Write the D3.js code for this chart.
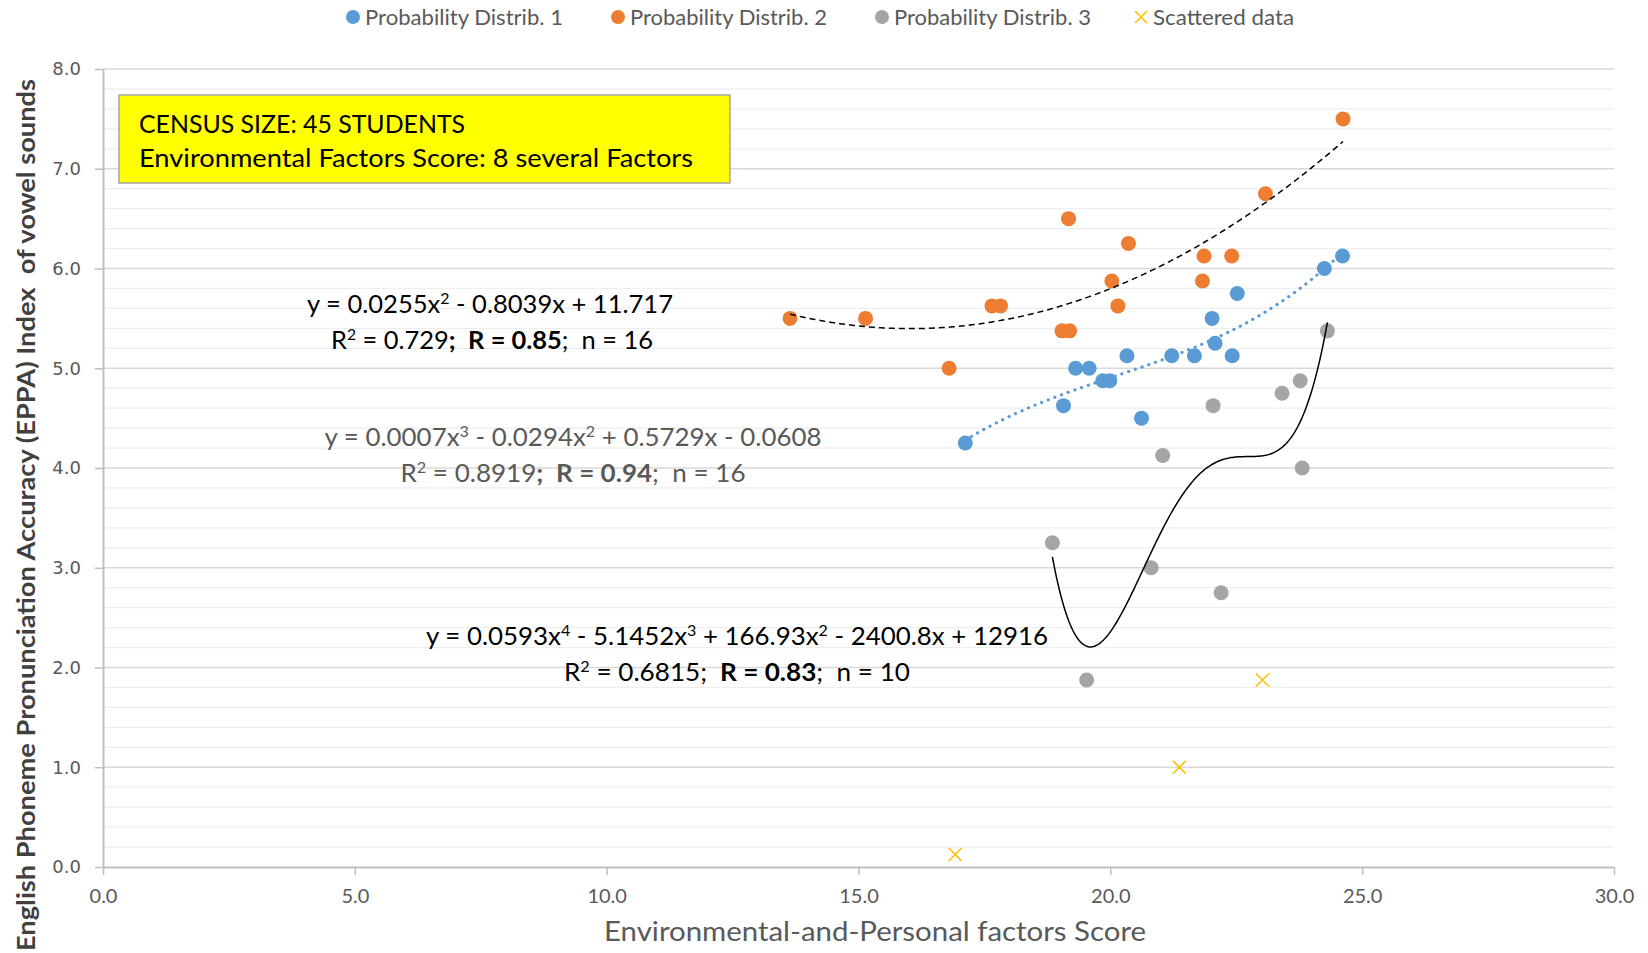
<!DOCTYPE html>
<html>
<head>
<meta charset="utf-8">
<script src="https://cdn.jsdelivr.net/npm/d3@7"></script>
<style>
  html, body { margin: 0; padding: 0; background: #ffffff; }
  svg { display: block; }
  svg text { white-space: pre; }
</style>
</head>
<body>
<svg id="chart" width="1648" height="953"></svg>
<script>
// ---- Data -----------------------------------------------------------------
const seriesNames = ["Probability Distrib. 1", "Probability Distrib. 2", "Probability Distrib. 3", "Scattered data"];

const dist1X = [17.12, 19.07, 19.31, 19.58, 19.85, 19.99, 20.33, 20.62, 21.22, 21.67, 22.02, 22.08, 22.42, 22.52, 24.25, 24.61];
const dist1Y = [4.25, 4.625, 5.0, 5.0, 4.875, 4.875, 5.125, 4.5, 5.125, 5.125, 5.5, 5.25, 5.125, 5.75, 6.0, 6.125];

const dist2X = [13.64, 15.14, 16.80, 17.65, 17.82, 19.04, 19.19, 19.17, 20.03, 20.15, 20.36, 21.83, 21.86, 22.41, 23.08, 24.62];
const dist2Y = [5.5, 5.5, 5.0, 5.625, 5.625, 5.375, 5.375, 6.5, 5.875, 5.625, 6.25, 5.875, 6.125, 6.125, 6.75, 7.5];

const dist3X = [18.85, 19.53, 20.81, 21.04, 22.04, 22.20, 23.41, 23.77, 23.81, 24.31];
const dist3Y = [3.25, 1.875, 3.0, 4.125, 4.625, 2.75, 4.75, 4.875, 4.0, 5.375];

const scatterX = [16.92, 21.37, 23.02];
const scatterY = [0.125, 1.0, 1.875];

// Polynomial order of each series' trendline
const trendOrder = [3, 2, 4];

const xTicks = [0, 5, 10, 15, 20, 25, 30];
const yTicks = [0, 1, 2, 3, 4, 5, 6, 7, 8];

const xTitle = "Environmental-and-Personal factors Score";
const yTitle = "English Phoneme Pronunciation Accuracy (EPPA) Index  of vowel sounds";
const noteLines = ["CENSUS SIZE: 45 STUDENTS", "Environmental Factors Score: 8 several Factors"];

// Trendline equation labels: [text, style] segments (n = normal, b = bold, s = superscript)
const eqDistrib2 = [
  [["y = 0.0255x", "n"], ["2", "s"], [" - 0.8039x + 11.717", "n"]],
  [["R", "n"], ["2", "s"], [" = 0.729", "n"], [";  R = 0.85", "b"], [";  n = 16", "n"]]
];
const eqDistrib1 = [
  [["y = 0.0007x", "n"], ["3", "s"], [" - 0.0294x", "n"], ["2", "s"], [" + 0.5729x - 0.0608", "n"]],
  [["R", "n"], ["2", "s"], [" = 0.8919", "n"], [";  R = 0.94", "b"], [";  n = 16", "n"]]
];
const eqDistrib3 = [
  [["y = 0.0593x", "n"], ["4", "s"], [" - 5.1452x", "n"], ["3", "s"], [" + 166.93x", "n"], ["2", "s"], [" - 2400.8x + 12916", "n"]],
  [["R", "n"], ["2", "s"], [" = 0.6815; ", "n"], [" R = 0.83", "b"], [";  n = 10", "n"]]
];

// ---- Layout & style -------------------------------------------------------
const colors = ["#5b9bd5", "#ed7d31", "#a5a5a5", "#ffc000"];
const FONT = "Lato, 'Open Sans', 'Noto Sans', sans-serif";
const plot = { left: 103, right: 1614, top: 69, bottom: 867 };

const svg = d3.select("#chart");
const x = d3.scaleLinear().domain([0, 30]).range([plot.left, plot.right]);
const y = d3.scaleLinear().domain([0, 8]).range([plot.bottom, plot.top]);
const fmt = d3.format(".1f");

// ---- Gridlines ------------------------------------------------------------
const minorTicks = d3.range(0, 8.0001, 0.2).filter(v => Math.abs(v - Math.round(v)) > 1e-6);
svg.append("g").selectAll("line").data(minorTicks).join("line")
  .attr("x1", plot.left).attr("x2", plot.right)
  .attr("y1", d => y(d)).attr("y2", d => y(d))
  .attr("stroke", "#eeeeee").attr("stroke-width", 1.3);
svg.append("g").selectAll("line").data(yTicks.filter(d => d > 0)).join("line")
  .attr("x1", plot.left).attr("x2", plot.right)
  .attr("y1", d => y(d)).attr("y2", d => y(d))
  .attr("stroke", "#d9d9d9").attr("stroke-width", 1.5);

// ---- Axes -----------------------------------------------------------------
const xAxis = svg.append("g").attr("transform", `translate(0,${plot.bottom})`)
  .call(d3.axisBottom(x).tickValues(xTicks).tickFormat(fmt).tickSizeInner(8).tickSizeOuter(0).tickPadding(14));
const yAxis = svg.append("g").attr("transform", `translate(${plot.left},0)`)
  .call(d3.axisLeft(y).tickValues(yTicks).tickFormat(fmt).tickSizeInner(8).tickSizeOuter(0).tickPadding(14));
[xAxis, yAxis].forEach(g => {
  g.select(".domain").attr("stroke", "#bfbfbf").attr("stroke-width", 2);
  g.selectAll(".tick line").attr("stroke", "#bfbfbf").attr("stroke-width", 1.5);
});
xAxis.selectAll(".tick text")
  .attr("font-family", FONT).attr("font-size", 20).attr("fill", "#595959");
yAxis.selectAll(".tick text")
  .attr("font-family", "'DejaVu Sans', Verdana, sans-serif").attr("font-size", 18).attr("fill", "#595959")
  .attr("x", -22);

// Axis titles
svg.append("text")
  .attr("x", 875 - 271).attr("y", 941)
  .attr("font-family", FONT).attr("font-size", 27).attr("fill", "#595959")
  .attr("textLength", 542).attr("lengthAdjust", "spacingAndGlyphs")
  .text(xTitle);
svg.append("text")
  .attr("transform", "translate(35,515) rotate(-90)")
  .attr("x", -436)
  .attr("font-family", FONT).attr("font-size", 25).attr("font-weight", "bold").attr("fill", "#404040")
  .attr("textLength", 872).attr("lengthAdjust", "spacingAndGlyphs")
  .text(yTitle);

// ---- Trendlines (least-squares polynomial fits) --------------------------
function polyFit(xs, ys, deg) {
  const m = d3.mean(xs), s = d3.deviation(xs);
  const t = xs.map(v => (v - m) / s);
  const n = deg + 1;
  const A = Array.from({ length: n }, () => new Array(n + 1).fill(0));
  t.forEach((tv, k) => {
    for (let i = 0; i < n; i++) {
      for (let j = 0; j < n; j++) A[i][j] += Math.pow(tv, i + j);
      A[i][n] += ys[k] * Math.pow(tv, i);
    }
  });
  for (let c = 0; c < n; c++) {
    let p = c;
    for (let r = c + 1; r < n; r++) if (Math.abs(A[r][c]) > Math.abs(A[p][c])) p = r;
    [A[c], A[p]] = [A[p], A[c]];
    for (let r = 0; r < n; r++) {
      if (r === c) continue;
      const f = A[r][c] / A[c][c];
      for (let k = c; k <= n; k++) A[r][k] -= f * A[c][k];
    }
  }
  const coef = A.map((row, i) => row[n] / row[i]);
  return v => {
    const u = (v - m) / s;
    let r = 0;
    for (let i = n - 1; i >= 0; i--) r = r * u + coef[i];
    return r;
  };
}

const line = d3.line().x(d => x(d[0])).y(d => y(d[1])).curve(d3.curveLinear);
function trendPoints(xs, ys, deg) {
  const f = polyFit(xs, ys, deg);
  const lo = d3.min(xs), hi = d3.max(xs);
  const steps = 200;
  return d3.range(steps + 1).map(i => {
    const v = lo + (hi - lo) * i / steps;
    return [v, f(v)];
  });
}

// ---- Points ---------------------------------------------------------------
const seriesXY = [[dist1X, dist1Y], [dist2X, dist2Y], [dist3X, dist3Y]];
seriesXY.forEach(([xs, ys], si) => {
  svg.append("g").selectAll("circle").data(xs.map((v, i) => [v, ys[i]])).join("circle")
    .attr("cx", d => x(d[0])).attr("cy", d => y(d[1])).attr("r", 7.5)
    .attr("fill", colors[si]);
});
const xMark = "M-6.5,-6.5L6.5,6.5M-6.5,6.5L6.5,-6.5";
svg.append("g").selectAll("path").data(scatterX.map((v, i) => [v, scatterY[i]])).join("path")
  .attr("transform", d => `translate(${x(d[0])},${y(d[1])})`)
  .attr("d", xMark).attr("stroke", colors[3]).attr("stroke-width", 1.6).attr("fill", "none");

// Trendline strokes
const trendStyles = [
  { stroke: colors[0], width: 3.2, dash: "0.1,7", cap: "round" },
  { stroke: "#000000", width: 1.5, dash: "6,4", cap: "butt" },
  { stroke: "#000000", width: 1.5, dash: null, cap: "butt" }
];
seriesXY.forEach(([xs, ys], si) => {
  const st = trendStyles[si];
  svg.append("path")
    .datum(trendPoints(xs, ys, trendOrder[si]))
    .attr("d", line)
    .attr("fill", "none")
    .attr("stroke", st.stroke).attr("stroke-width", st.width)
    .attr("stroke-dasharray", st.dash).attr("stroke-linecap", st.cap);
});

// ---- Text helpers ---------------------------------------------------------
function richText(parent, segs, cx, baseline, size, fill, width) {
  const t = parent.append("text")
    .attr("x", cx - width / 2).attr("y", baseline)
    .attr("font-family", FONT).attr("font-size", size).attr("fill", fill);
  let raised = false;
  segs.forEach(([str, style]) => {
    const ts = t.append("tspan").text(str);
    if (style === "b") ts.attr("font-weight", "bold");
    if (style === "s") {
      ts.attr("font-size", size * 0.62).attr("dy", -size * 0.36);
      raised = true;
    } else if (raised) {
      ts.attr("dy", size * 0.36);
      raised = false;
    }
  });
  t.attr("textLength", width).attr("lengthAdjust", "spacingAndGlyphs");
  return t;
}

// Equation labels
const eqGroup = svg.append("g");
richText(eqGroup, eqDistrib2[0], 490, 313, 25.5, "#000000", 366);
richText(eqGroup, eqDistrib2[1], 492, 349, 25.5, "#000000", 322);
richText(eqGroup, eqDistrib1[0], 573, 446, 25.5, "#595959", 497);
richText(eqGroup, eqDistrib1[1], 573, 482, 25.5, "#595959", 345);
richText(eqGroup, eqDistrib3[0], 737, 645, 25.5, "#000000", 622);
richText(eqGroup, eqDistrib3[1], 737, 681, 25.5, "#000000", 346);

// ---- Note box -------------------------------------------------------------
svg.append("rect")
  .attr("x", 119).attr("y", 95).attr("width", 611).attr("height", 88)
  .attr("fill", "#ffff00").attr("stroke", "#a6a6a6").attr("stroke-width", 1.5);
const noteWidths = [326, 554];
noteLines.forEach((s, i) => {
  svg.append("text")
    .attr("x", 139).attr("y", 133 + i * 34)
    .attr("font-family", FONT).attr("font-size", 25).attr("fill", "#000000")
    .attr("textLength", noteWidths[i]).attr("lengthAdjust", "spacingAndGlyphs")
    .text(s);
});

// ---- Legend ---------------------------------------------------------------
const legendX = [353, 618, 882, 1141];
const legendW = [198, 197, 197, 141];
const legend = svg.append("g");
seriesNames.forEach((name, i) => {
  const g = legend.append("g").attr("transform", `translate(${legendX[i]},17)`);
  if (i < 3) {
    g.append("circle").attr("r", 7).attr("fill", colors[i]);
  } else {
    g.append("path").attr("d", "M-6,-6L6,6M-6,6L6,-6")
      .attr("stroke", colors[3]).attr("stroke-width", 1.6).attr("fill", "none");
  }
  g.append("text")
    .attr("x", 12).attr("y", 8)
    .attr("font-family", FONT).attr("font-size", 22).attr("fill", "#595959")
    .attr("textLength", legendW[i]).attr("lengthAdjust", "spacingAndGlyphs")
    .text(name);
});
</script>
</body>
</html>
